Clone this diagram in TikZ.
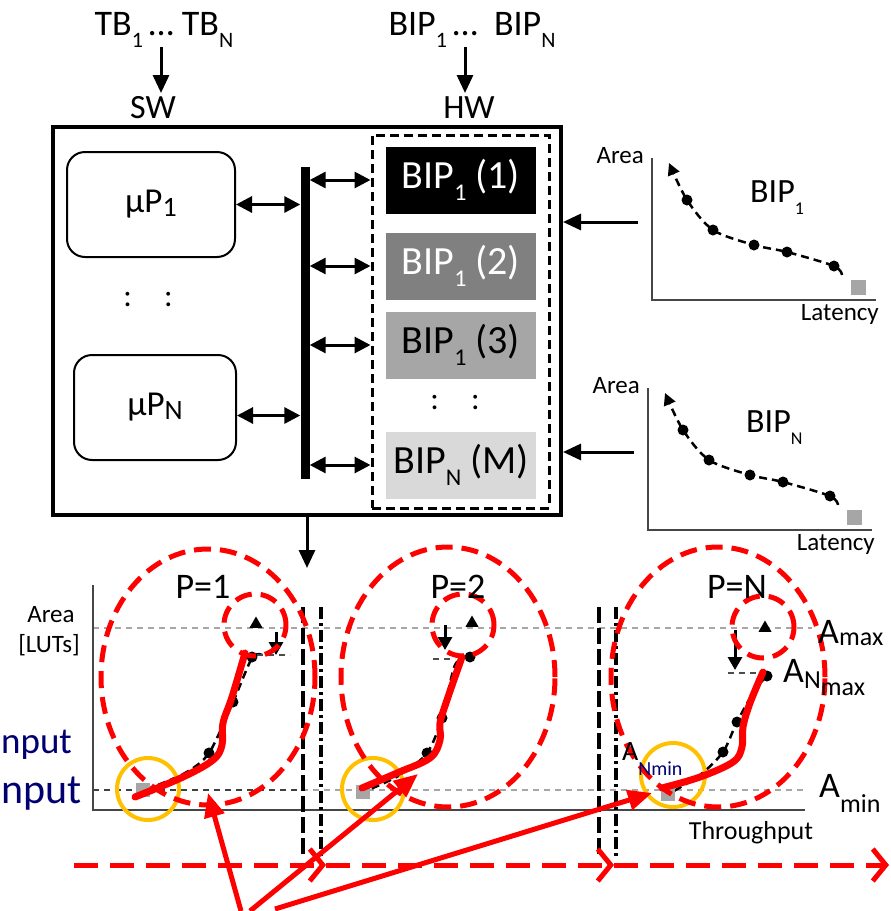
\documentclass[tikz,border=0pt]{standalone}
\usepackage{fontspec}
\setmainfont{Carlito}
\usetikzlibrary{arrows.meta,shapes.geometric,positioning}

\definecolor{navytxt}{RGB}{0,0,112}
\definecolor{ringyellow}{RGB}{255,192,0}
\definecolor{axisgray}{RGB}{70,70,70}
\definecolor{bipmid}{RGB}{128,128,128}
\definecolor{biplight}{RGB}{166,166,166}
\definecolor{bippale}{RGB}{217,217,217}

\newcommand{\fsz}[1]{\fontsize{#1}{#1}\selectfont}
\newcommand{\lowtxt}[3]{\raisebox{-#2pt}{\fsz{#1}#3}}

\begin{document}
\begin{tikzpicture}[x=1pt, y=-1pt, inner sep=0pt,
  arr/.style={line width=3pt, -{Triangle[length=18pt,width=16pt]}},
  biarr/.style={line width=3pt, {Triangle[length=16pt,width=16pt]}-{Triangle[length=16pt,width=16pt]}},
  smallarr/.style={line width=3pt, -{Triangle[length=13pt,width=14pt]}},
  upbox/.style={draw, line width=2pt, rounded corners=18pt, minimum height=105pt, font=\fsz{35}},
  bipbox/.style={minimum width=150pt, minimum height=67pt, font=\fsz{40}},
  curve/.style={line width=2.5pt, dash pattern=on 8pt off 5pt},
  mdot/.style={circle, fill=black, minimum size=11pt},
  gsq/.style={fill=biplight, minimum size=14pt},
  tri/.style={regular polygon, regular polygon sides=3, fill=black, minimum size=15pt},
  level/.style={gray!70, line width=2pt, dash pattern=on 6pt off 5pt},
  sepa/.style={line width=4pt, dash pattern=on 16pt off 5pt},
  sepb/.style={line width=4pt, dash pattern=on 12pt off 4pt on 3pt off 4pt},
  redring/.style={red, line width=5pt, dash pattern=on 17pt off 9pt},
  redline/.style={red, line width=7pt, line cap=round, line join=round},
  yring/.style={ringyellow, line width=4pt},
  flow/.style={red, line width=5pt, dash pattern=on 24pt off 12pt, -{Straight Barb[length=13pt,width=32pt]}},
  hit/.style={red, line width=5pt, -{Triangle[length=24pt,width=20pt]}}]
\useasboundingbox (0,0) rectangle (891,911);

% inputs
\node[anchor=base, font=\fsz{36}] (tb) at (164,35) {TB\lowtxt{22}{12}{1}\,\ldots\ TB\lowtxt{22}{12}{N}};
\node[anchor=base, font=\fsz{34}] (sw) at (153,118) {SW};
\coordinate (swin) at (161,93);
\draw[arr] (swin |- tb.south) -- (swin);
\node[anchor=base, font=\fsz{36}] (bipl) at (472,35) {BIP\lowtxt{22}{12}{1}\,\ldots\ \ BIP\lowtxt{22}{12}{N}};
\node[anchor=base, font=\fsz{34}] (hwl) at (469,118) {HW};
\coordinate (hwin) at (465,93);
\draw[arr] (hwin |- bipl.south) -- (hwin);

% system
\node[draw, line width=4pt, minimum width=508pt, minimum height=388pt] (sys) at (307,321) {};
\node[draw, line width=3pt, dash pattern=on 9pt off 5pt, minimum width=177pt, minimum height=373pt] (hw) at (460.5,321.5) {};
\node[upbox, minimum width=168pt] (up1) at (151,204.5) {µP\lowtxt{28}{4}{1}};
\node[upbox, minimum width=162pt] (upn) at (155,407.5) {µP\lowtxt{28}{4}{N}};
\node[font=\fsz{32}] (swdots) at (148,300) {:\hspace{32pt}:};
\node[fill=black, minimum width=9pt, minimum height=312pt] (bus) at (305,323) {};
\node[bipbox, fill=black, text=white] (bip1) at (461,180) {BIP\lowtxt{24}{12}{1} (1)};
\node[bipbox, fill=bipmid, text=white] (bip2) at (461,266) {BIP\lowtxt{24}{12}{1} (2)};
\node[bipbox, fill=biplight] (bip3) at (461,345) {BIP\lowtxt{24}{12}{1} (3)};
\node[font=\fsz{32}] (hwdots) at (455,403) {:\hspace{32pt}:};
\node[bipbox, fill=bippale] (bipm) at (461,465) {BIP\lowtxt{24}{12}{N} (M)};
\coordinate (upnport) at ([yshift=-8pt]upn.east);
\draw[biarr] (up1.east) -- (up1.east -| bus.west);
\draw[biarr] (upnport) -- (upnport -| bus.west);
\foreach \b in {bip1,bip2,bip3,bipm}
  \draw[biarr] (bus.east |- \b) -- (\b -| hw.west);
\coordinate (toexp) at (307,568);
\draw[arr] (sys.south) -- (toexp);

% area/latency curves
\foreach \dx/\dy/\nm/\sb in {0/0/a/1, -4/230/b/N} {
  \begin{scope}[shift={(\dx,\dy)}]
    \draw[axisgray, line width=2pt] (652,158) -- (652,300) -- (876,300);
    \node[anchor=base east, font=\fsz{25}] (area\nm) at (644,163) {Area};
    \node[anchor=base east, font=\fsz{25}] (lat\nm) at (879,320) {Latency};
    \node[anchor=base west, font=\fsz{34}] (gbip\nm) at (750,202) {BIP\lowtxt{18}{12}{\sb}};
    \draw[curve, -{Triangle[length=12pt,width=12pt]}] plot[smooth] coordinates {(842,275) (834,266) (787,252) (754,245) (713,230) (687,200) (669,163)};
    \foreach \p in {(687,200),(713,230),(754,245),(787,252),(834,266)}
      \node[mdot] at \p {};
    \node[gsq, minimum size=15pt] (sq\nm) at (858,287) {};
    \coordinate (gsrc\nm) at (638,222);
    \draw[arr] (gsrc\nm) -- (gsrc\nm -| sys.east);
  \end{scope}
}

% exploration panels
\draw[level] (93,628) -- (812,628);
\draw[level] (93,790) -- (803,790);
\draw[level, black!75] (93,790) -- (300,790);
\draw[axisgray, line width=2pt] (93,585) -- (93,810) -- (805,810);
\node[anchor=base, font=\fsz{25}] (ylab) at (51,622) {Area};
\node[anchor=base, font=\fsz{25}] (yunit) at (49,652) {[LUTs]};
\node[anchor=base, font=\fsz{26}] (xlab) at (751,839) {Throughput};
\node[anchor=base west, font=\fsz{37}, text=navytxt] (inp1) at (1,753) {nput};
\node[anchor=base west, font=\fsz{42}, text=navytxt] (inp2) at (1,803) {nput};
\foreach \x in {303,599} \draw[sepa] (\x,607) -- (\x,858);
\foreach \x in {321,616} \draw[sepb] (\x,607) -- (\x,858);

% P=1
\draw[curve] plot[smooth] coordinates {(262,655) (252,658) (233,702) (209,753) (185,773) (150,788)};
\foreach \p in {(252,657),(233,702),(209,753)} \node[mdot] at \p {};
\node[gsq] (q1) at (143,790) {};
\draw[level, black!70] (257,655) -- (290,655);
\coordinate (d1a) at (276,632); \coordinate (d1b) at (276,655);
\draw[smallarr] (d1a) -- (d1b);
\node[tri] (t1) at (256,624) {};
\draw[yring] (148,789) circle [radius=31pt];
\draw[redring] (208,677) ellipse [x radius=107pt, y radius=128pt];
\draw[redring] (255,625) circle [radius=31pt];
\draw[redline] plot[smooth, tension=0.6] coordinates {(135,797) (183,777) (213,760) (222,745) (223,723) (232,697) (245,653)};
\node[anchor=base, font=\fsz{36}] (p1) at (203,598) {P=1};

% P=2
\draw[curve] plot[smooth] coordinates {(470,657) (455,665) (442,718) (427,753) (400,775) (368,790)};
\foreach \p in {(470,657),(442,718),(427,753)} \node[mdot] at \p {};
\node[gsq] (q2) at (363,792) {};
\draw[level, black!70] (433,659) -- (455,659);
\coordinate (d2a) at (445,625); \coordinate (d2b) at (445,650);
\draw[smallarr] (d2a) -- (d2b);
\node[tri] (t2) at (472,623) {};
\draw[yring] (373,789) circle [radius=31pt];
\draw[redring] (448,677) ellipse [x radius=107pt, y radius=130pt];
\draw[redring] (463,625) circle [radius=31pt];
\draw[redline] plot[smooth, tension=0.6] coordinates {(362,788) (397,773) (430,758) (440,740) (440,723) (447,700) (462,657)};
\node[anchor=base, font=\fsz{36}] (p2) at (458,598) {P=2};

% P=N
\draw[curve] plot[smooth] coordinates {(767,676) (755,690) (737,722) (723,752) (700,775) (672,792)};
\foreach \p in {(767,676),(737,722),(723,752)} \node[mdot] at \p {};
\node[gsq] (q3) at (668,794) {};
\draw[level, black!70] (728,673) -- (757,673);
\coordinate (d3a) at (735,630); \coordinate (d3b) at (735,670);
\draw[smallarr] (d3a) -- (d3b);
\node[tri] (t3) at (765,628) {};
\draw[yring] (673,775) circle [radius=32pt];
\draw[redring] (718,677) ellipse [x radius=107pt, y radius=130pt];
\draw[redring] (763,627) circle [radius=31pt];
\draw[redline] plot[smooth, tension=0.6] coordinates {(662,788) (700,777) (733,762) (742,747) (743,727) (750,703) (763,672)};
\node[anchor=base, font=\fsz{36}] (p3) at (737,598) {P=N};
\node[anchor=base west, font=\fsz{36}] (amax) at (818,643) {A\lowtxt{26}{2}{max}};
\node[anchor=base west, font=\fsz{36}] (anmax) at (783,682) {A\lowtxt{26}{6}{N}\lowtxt{26}{13}{max}};
\node[anchor=base west, font=\fsz{36}] (amin) at (819,797) {A\lowtxt{26}{15}{min}};
\node[anchor=base west, font=\fsz{28}] (anmin) at (622,760) {A\lowtxt{20}{15}{\color{navytxt}Nmin}};

% flow and hits
\coordinate (f0) at (74,865); \coordinate (f1) at (326,865);
\coordinate (f2) at (614,865); \coordinate (f3) at (889,865);
\draw[flow] (f0) -- (f1);
\draw[flow] (f1) -- (f2);
\draw[flow] (f2) -- (f3);
\coordinate (s1) at (241,911); \coordinate (s2) at (250,911); \coordinate (s3) at (275,909);
\coordinate (h1) at (208,793); \coordinate (h2) at (418,774); \coordinate (h3) at (652,793);
\draw[hit] (s1) -- (h1);
\draw[hit] (s2) -- (h2);
\draw[hit] (s3) -- (h3);
\end{tikzpicture}
\end{document}
